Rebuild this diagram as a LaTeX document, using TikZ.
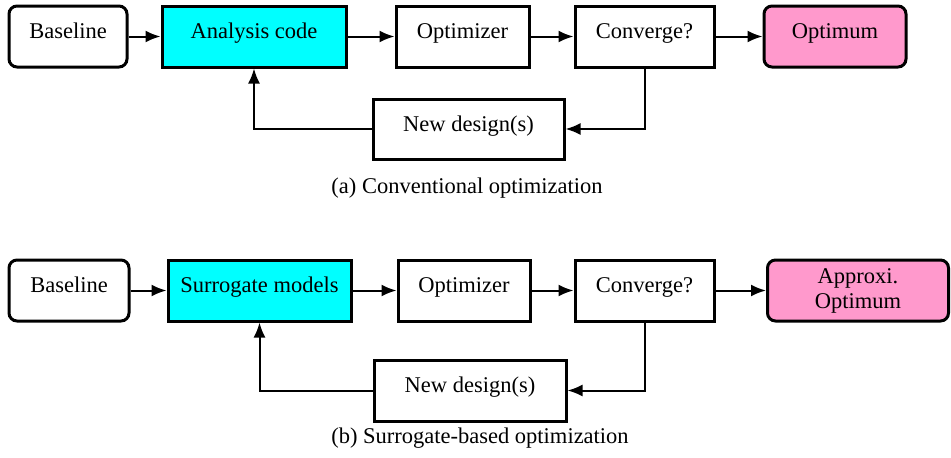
\documentclass[tikz,border=0pt]{standalone}
\usepackage{fontspec}
\setmainfont{Liberation Serif}
\usetikzlibrary{arrows.meta}
\definecolor{boxcyan}{RGB}{0,255,255}
\definecolor{boxpink}{RGB}{255,153,204}
\begin{document}
\begin{tikzpicture}[x=1pt,y=-1pt,
  box/.style={draw, line width=3pt, inner sep=0pt, font=\fontsize{22.5}{25}\selectfont, align=center},
  one/.style={box, text height=10pt, text depth=6pt},
  rbox/.style={rounded corners=8pt},
  arr/.style={line width=2pt, -{Latex[length=15pt,width=12pt]}},
  captxt/.style={anchor=base, font=\fontsize{22.5}{26}\selectfont}]
\useasboundingbox (0,0) rectangle (951,458);
% (a)
\node[one, rbox, minimum width=118, minimum height=61] (baseA) at (68,36.5) {Baseline};
\node[one, fill=boxcyan, minimum width=184, minimum height=61] (anaA) at (254,36.5) {Analysis code};
\node[one, minimum width=133, minimum height=61] (optA) at (462.5,36.5) {Optimizer};
\node[one, minimum width=139, minimum height=61] (convA) at (644.5,36.5) {Converge?};
\node[one, rbox, fill=boxpink, minimum width=142, minimum height=61] (optmA) at (835,36.5) {Optimum};
\node[one, minimum width=191, minimum height=60] (newA) at (468.5,129) {New design(s)};
\draw[arr] (baseA) -- (anaA);
\draw[arr] (anaA) -- (optA);
\draw[arr] (optA) -- (convA);
\draw[arr] (convA) -- (optmA);
\draw[arr] (convA.south) |- (newA.east);
\draw[arr] (newA.west) -| (anaA.south);
\node[captxt] (capA) at (467,193) {(a) Conventional optimization};
% (b)
\node[one, rbox, minimum width=120, minimum height=61] (baseB) at (69,290.5) {Baseline};
\node[one, fill=boxcyan, minimum width=183, minimum height=61] (surB) at (259.5,290.5) {Surrogate models};
\node[one, minimum width=132, minimum height=61] (optB) at (464,290.5) {Optimizer};
\node[one, minimum width=139, minimum height=61] (convB) at (644.5,290.5) {Converge?};
\node[box, rbox, fill=boxpink, minimum width=181, minimum height=61, text depth=4pt] (optmB) at (858,290.5) {Approxi.\\Optimum};
\node[one, minimum width=192, minimum height=61] (newB) at (470,390.5) {New design(s)};
\draw[arr] (baseB) -- (surB);
\draw[arr] (surB) -- (optB);
\draw[arr] (optB) -- (convB);
\draw[arr] (convB) -- (optmB);
\draw[arr] (convB.south) |- (newB.east);
\draw[arr] (newB.west) -| (surB.south);
\node[captxt] (capB) at (480,443) {(b) Surrogate-based optimization};
\end{tikzpicture}
\end{document}
